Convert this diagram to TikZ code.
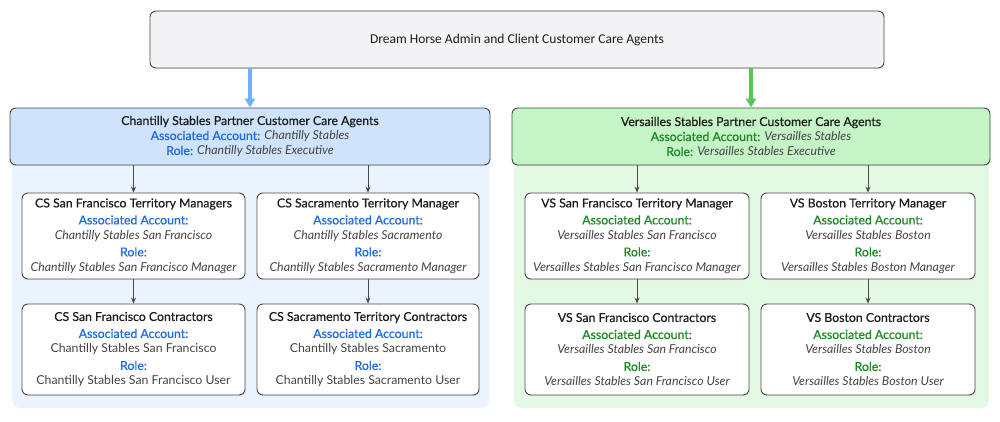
\documentclass[tikz,border=0pt]{standalone}
\usepackage{fontspec}
\setmainfont{Lato}
\newfontfamily\medfont{Lato}[FakeBold=0.6]
\newfontfamily\topfont{Carlito}
\usetikzlibrary{arrows.meta,shadows}
\definecolor{bordc}{HTML}{4A4A4A}
\definecolor{topfill}{HTML}{F3F3F5}
\definecolor{bluefill}{HTML}{CFE3FC}
\definecolor{greenfill}{HTML}{C5F5C6}
\definecolor{bluebg}{HTML}{EBF4FE}
\definecolor{greenbg}{HTML}{E4F9E3}
\definecolor{bluetxt}{HTML}{1F6BE0}
\definecolor{greentxt}{HTML}{1C8A22}
\definecolor{bluearr}{HTML}{6DB1FB}
\definecolor{greenarr}{HTML}{55C85A}
\definecolor{bodytxt}{HTML}{1E1E1E}
\definecolor{itxt}{HTML}{444444}
\newcommand{\bl}[1]{\textcolor{bluetxt}{\medfont #1}}
\newcommand{\gr}[1]{\textcolor{greentxt}{\medfont #1}}
\newcommand{\itx}[1]{\textcolor{itxt}{\itshape #1}}
\newcommand{\rg}[1]{\textcolor{itxt}{#1}}
\newcommand{\ttl}[1]{{\medfont #1}}
\begin{document}
\begin{tikzpicture}[x=1pt,y=-1pt,
  box/.style={draw=bordc, line width=0.9pt, rounded corners=6pt, align=center,
    inner sep=0pt, text=bodytxt, font=\fontsize{12.3}{15}\selectfont,
    drop shadow={opacity=0.12, shadow xshift=0.6pt, shadow yshift=-1.2pt}},
  sub/.style={box, fill=white, minimum height=#1},
  sub/.default=86pt,
  arr/.style={draw=bordc, line width=0.8pt, -{Stealth[length=6pt,width=5pt]}},
  bigarr/.style={line width=3.2pt, -{Triangle[length=9pt,width=10pt]}}
]
\useasboundingbox (0,0) rectangle (1000,422);
\fill[white] (0,0) rectangle (1000,422);
% group backgrounds
\fill[bluebg, rounded corners=8pt] (12,120) rectangle (489,408);
\fill[greenbg, rounded corners=8pt] (514,120) rectangle (989,408);

% top
\node[box, fill=topfill, minimum width=734pt, minimum height=57pt, font=\topfont\fontsize{13.5}{15}\selectfont] (top) at (517,39.5) {Dream Horse Admin and Client Customer Care Agents};

% headers
\node[box, fill=bluefill, minimum width=480pt, minimum height=57pt] (lh) at (250,136.5)
  {\ttl{Chantilly Stables Partner Customer Care Agents}\\
   \bl{Associated Account:} \itx{Chantilly Stables}\\
   \bl{Role:} \itx{Chantilly Stables Executive}};
\node[box, fill=greenfill, minimum width=478pt, minimum height=57pt] (rh) at (751,136.5)
  {\ttl{Versailles Stables Partner Customer Care Agents}\\
   \gr{Associated Account:} \itx{Versailles Stables}\\
   \gr{Role:} \itx{Versailles Stables Executive}};

% left sub boxes
\node[sub, minimum width=223pt] (l1) at (133.5,236)
  {\ttl{CS San Francisco Territory Managers}\\[2pt]
   \bl{Associated Account:}\\ \itx{Chantilly Stables San Francisco}\\[2pt]
   \bl{Role:}\\ \itx{Chantilly Stables San Francisco Manager}};
\node[sub, minimum width=222pt] (l2) at (368,236)
  {\ttl{CS Sacramento Territory Manager}\\[2pt]
   \bl{Associated Account:}\\ \itx{Chantilly Stables Sacramento}\\[2pt]
   \bl{Role:}\\ \itx{Chantilly Stables Sacramento Manager}};
\node[sub=91pt, minimum width=223pt] (l3) at (133.5,349.5)
  {\ttl{CS San Francisco Contractors}\\[2pt]
   \bl{Associated Account:}\\ \rg{Chantilly Stables San Francisco}\\[2pt]
   \bl{Role:}\\ \rg{Chantilly Stables San Francisco User}};
\node[sub=91pt, minimum width=222pt] (l4) at (368,349.5)
  {\ttl{CS Sacramento Territory Contractors}\\[2pt]
   \bl{Associated Account:}\\ \rg{Chantilly Stables Sacramento}\\[2pt]
   \bl{Role:}\\ \rg{Chantilly Stables Sacramento User}};

% right sub boxes
\node[sub, minimum width=224pt] (r1) at (637,236)
  {\ttl{VS San Francisco Territory Manager}\\[2pt]
   \gr{Associated Account:}\\ \itx{Versailles Stables San Francisco}\\[2pt]
   \gr{Role:}\\ \itx{Versailles Stables San Francisco Manager}};
\node[sub, minimum width=214pt] (r2) at (868,236)
  {\ttl{VS Boston Territory Manager}\\[2pt]
   \gr{Associated Account:}\\ \itx{Versailles Stables Boston}\\[2pt]
   \gr{Role:}\\ \itx{Versailles Stables Boston Manager}};
\node[sub=91pt, minimum width=224pt] (r3) at (637,349.5)
  {\ttl{VS San Francisco Contractors}\\[2pt]
   \gr{Associated Account:}\\ \itx{Versailles Stables San Francisco}\\[2pt]
   \gr{Role:}\\ \itx{Versailles Stables San Francisco User}};
\node[sub=91pt, minimum width=214pt] (r4) at (868,349.5)
  {\ttl{VS Boston Contractors}\\[2pt]
   \gr{Associated Account:}\\ \itx{Versailles Stables Boston}\\[2pt]
   \gr{Role:}\\ \itx{Versailles Stables Boston User}};

% big arrows
\draw[bigarr, draw=bluearr, fill=bluearr] (top.south -| lh.north) -- (lh.north);
\draw[bigarr, draw=greenarr, fill=greenarr] (top.south -| rh.north) -- (rh.north);

% small arrows
\draw[arr] (lh.south -| l1.north) -- (l1.north);
\draw[arr] (lh.south -| l2.north) -- (l2.north);
\draw[arr] (rh.south -| r1.north) -- (r1.north);
\draw[arr] (rh.south -| r2.north) -- (r2.north);
\draw[arr] (l1.south) -- (l3.north);
\draw[arr] (l2.south) -- (l4.north);
\draw[arr] (r1.south) -- (r3.north);
\draw[arr] (r2.south) -- (r4.north);
\end{tikzpicture}
\end{document}
